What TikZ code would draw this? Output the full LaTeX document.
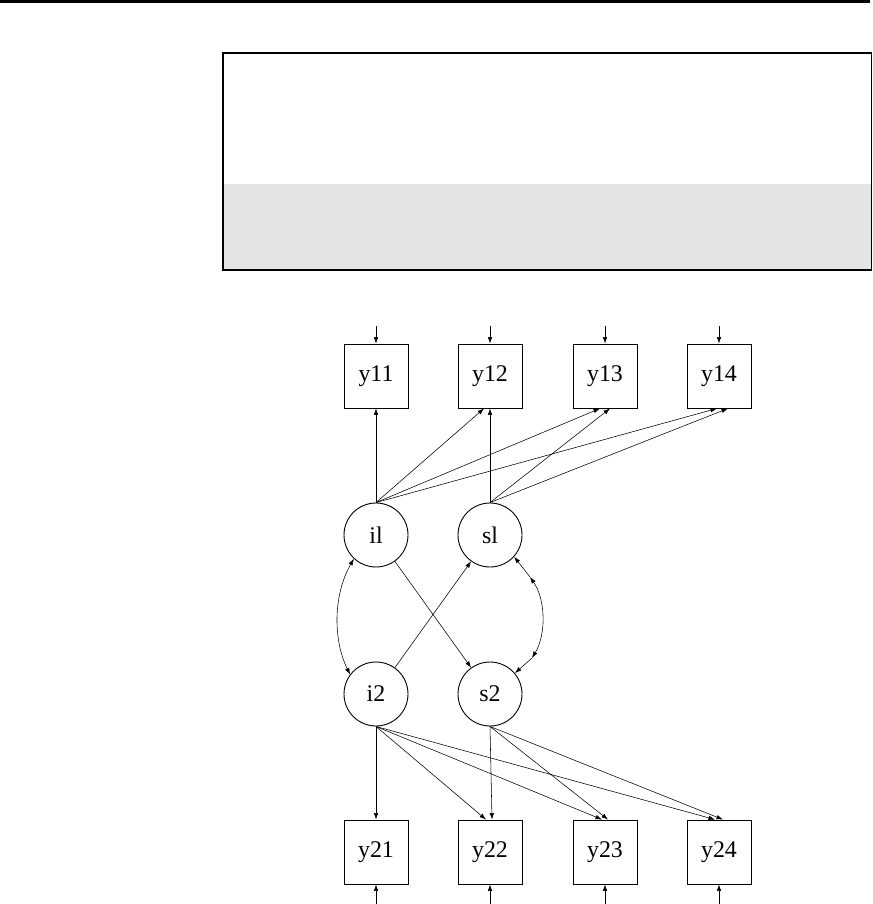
\documentclass[tikz,border=0pt]{standalone}
\usepackage{fontspec}
\setmainfont{Liberation Serif}
\usetikzlibrary{arrows.meta}
\begin{document}
\begin{tikzpicture}[x=1bp,y=-1bp,
  lbl/.style={font=\fontsize{24}{28}\selectfont},
  obs/.style={draw,line width=0.9bp,minimum size=64bp,inner sep=0,lbl},
  lat/.style={draw,circle,line width=0.9bp,minimum size=64bp,inner sep=0,lbl},
  arr/.style={line width=0.55bp,-{Latex[length=6.5bp,width=4.5bp]}},
  dbl/.style={line width=0.55bp,{Latex[length=6.5bp,width=4.5bp]}-{Latex[length=6.5bp,width=4.5bp]}},
  panel/.style={line width=1.3bp}]
\useasboundingbox (0,0) rectangle (873,904);
% header
\draw[line width=2.5bp] (0,1.25) -- (870,1.25);
\fill[fill={rgb,255:red,228;green,228;blue,228}] (223,184) rectangle (871.5,270);
\draw[panel] (223,53) rectangle (871.5,270);
\draw[line width=2.2bp] (222.4,53) -- (872.1,53);
% observed
\node[obs] (y11) at (376,376) {y11};
\node[obs] (y12) at (490,376) {y12};
\node[obs] (y13) at (605,376) {y13};
\node[obs] (y14) at (719,376) {y14};
\node[obs] (y21) at (376,852) {y21};
\node[obs] (y22) at (490,852) {y22};
\node[obs] (y23) at (605,852) {y23};
\node[obs] (y24) at (719,852) {y24};
% latent
\node[lat] (i1) at (376,535) {il};
\node[lat] (s1) at (490,535) {sl};
\node[lat] (i2) at (376,694) {i2};
\node[lat] (s2) at (490,694) {s2};
% residual arrows
\foreach \n/\x in {11/376,12/490,13/605,14/719}{
  \coordinate (e\n) at (\x,326);
  \draw[arr] (e\n) -- (y\n.north);}
\foreach \n/\x in {21/376,22/490,23/605,24/719}{
  \coordinate (e\n) at (\x,904);
  \draw[arr] (e\n) -- (y\n.south);}
% loadings, time 1
\draw[arr] (i1.north) -- (y11.south);
\draw[arr] (i1.north) -- ([xshift=-6bp]y12.south);
\draw[arr] (i1.north) -- ([xshift=-5bp]y13.south);
\draw[arr] (i1.north) -- ([xshift=-2bp]y14.south);
\draw[arr] (s1.north) -- (y12.south);
\draw[arr] (s1.north) -- ([xshift=5bp]y13.south);
\draw[arr] (s1.north) -- ([xshift=9bp]y14.south);
% loadings, time 2
\draw[arr] (i2.south) -- (y21.north);
\draw[arr] (i2.south) -- ([xshift=-4bp]y22.north);
\draw[arr] (i2.south) -- ([xshift=-3bp]y23.north);
\draw[arr] (i2.south) -- ([xshift=-4bp]y24.north);
\draw[arr] (s2.south) -- ([xshift=2bp]y22.north);
\draw[arr] (s2.south) -- ([xshift=3bp]y23.north);
\draw[arr] (s2.south) -- ([xshift=4bp]y24.north);
% cross-lagged
\draw[arr] (i1) -- (s2);
\draw[arr] (i2) -- (s1);
% covariances
\draw[dbl] (i1.227) .. controls (333,595) and (333,640) .. (i2.143);
\coordinate (c1) at (530,577);
\coordinate (c2) at (532,658);
\draw[dbl] (c1) .. controls (546,600) and (546,635) .. (c2);
\draw[arr] (c1) -- (s1.-42);
\draw[arr] (c2) -- (s2.40);
\end{tikzpicture}
\end{document}
